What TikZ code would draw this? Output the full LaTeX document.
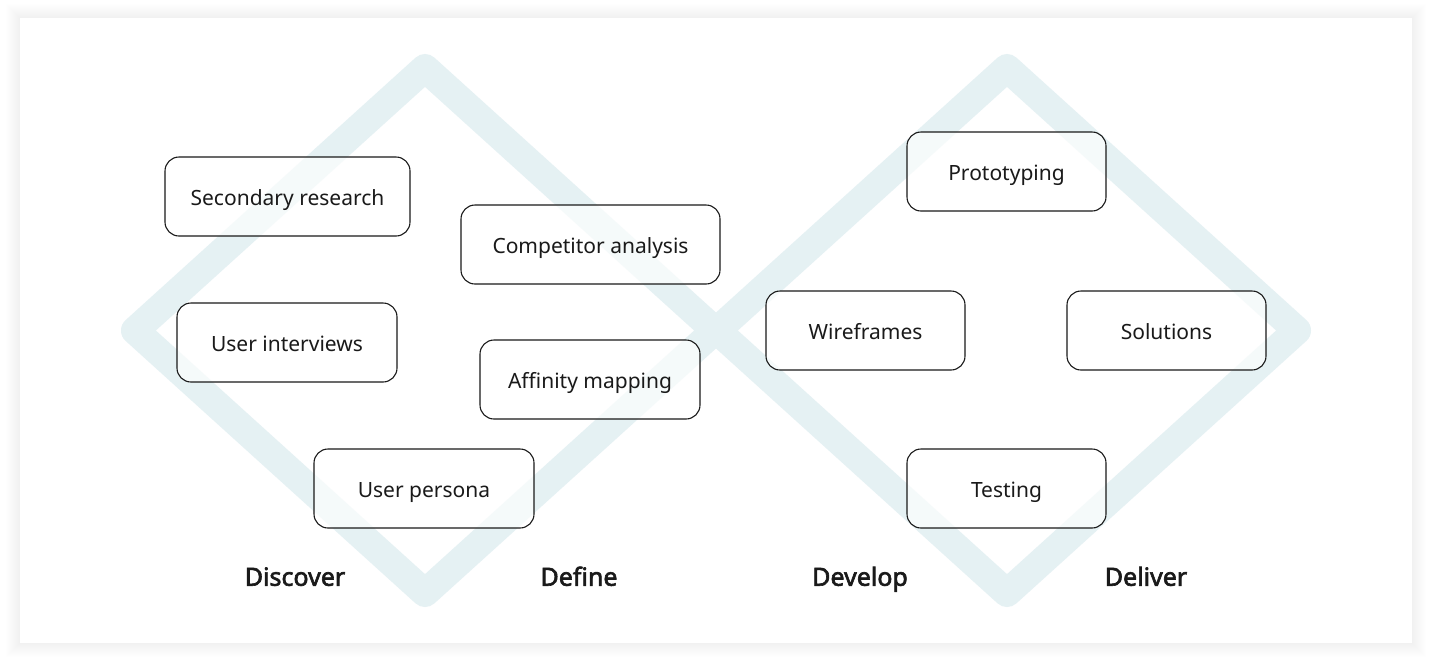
\documentclass[tikz,border=0pt]{standalone}
\usepackage{fontspec}
\setmainfont{Noto Sans}
\newfontfamily\phasefont{Noto Sans}[FakeBold=2.4]
\definecolor{diam}{RGB}{229,241,243}
\definecolor{ink}{RGB}{26,26,26}
\begin{document}
\begin{tikzpicture}[x=1pt,y=-1pt,
  diamondline/.style={draw=diam,line width=28pt,line join=round},
  box/.style={draw=ink,line width=1.1pt,rounded corners=14pt,fill=white,fill opacity=0.65,text opacity=1,
    text=ink,font=\fontsize{21}{25}\selectfont,inner sep=0pt,text height=17pt,text depth=0pt},
  phase/.style={text=ink,font=\phasefont\fontsize{25}{30}\selectfont,inner sep=0pt,text height=17.5pt,text depth=0pt}]
\useasboundingbox (0,0) rectangle (1432,665);
\fill[white] (0,0) rectangle (1432,665);
\foreach \i in {1,...,14}{\fill[black,opacity=0.004] (20-\i,18-\i) rectangle (1412+\i,643+\i);}
\fill[white] (20,18) rectangle (1412,643);
% diamonds
\draw[diamondline] (425,68) -- (715,330.5) -- (425,593) -- (135,330.5) -- cycle;
\draw[diamondline] (1007,68) -- (1297,330.5) -- (1007,593) -- (717,330.5) -- cycle;
% boxes
\node[box,minimum width=245pt,minimum height=79pt] (sec) at (287.5,196.5) {Secondary research};
\node[box,minimum width=259pt,minimum height=79pt] (comp) at (590.5,244.5) {Competitor analysis};
\node[box,minimum width=220pt,minimum height=79pt] (ui) at (287,342.5) {User interviews};
\node[box,minimum width=220pt,minimum height=79pt] (aff) at (590,379.5) {Affinity mapping};
\node[box,minimum width=220pt,minimum height=79pt] (pers) at (424,488.5) {User persona};
\node[box,minimum width=199pt,minimum height=79pt] (proto) at (1006.5,171.5) {Prototyping};
\node[box,minimum width=199pt,minimum height=79pt] (wire) at (865.5,330.5) {Wireframes};
\node[box,minimum width=199pt,minimum height=79pt] (sol) at (1166.5,330.5) {Solutions};
\node[box,minimum width=199pt,minimum height=79pt] (test) at (1006.5,488.5) {Testing};
% phase labels
\node[phase] (disc) at (295,577) {Discover};
\node[phase] (def) at (579,577) {Define};
\node[phase] (dev) at (860,577) {Develop};
\node[phase] (del) at (1146,577) {Deliver};
\end{tikzpicture}
\end{document}
